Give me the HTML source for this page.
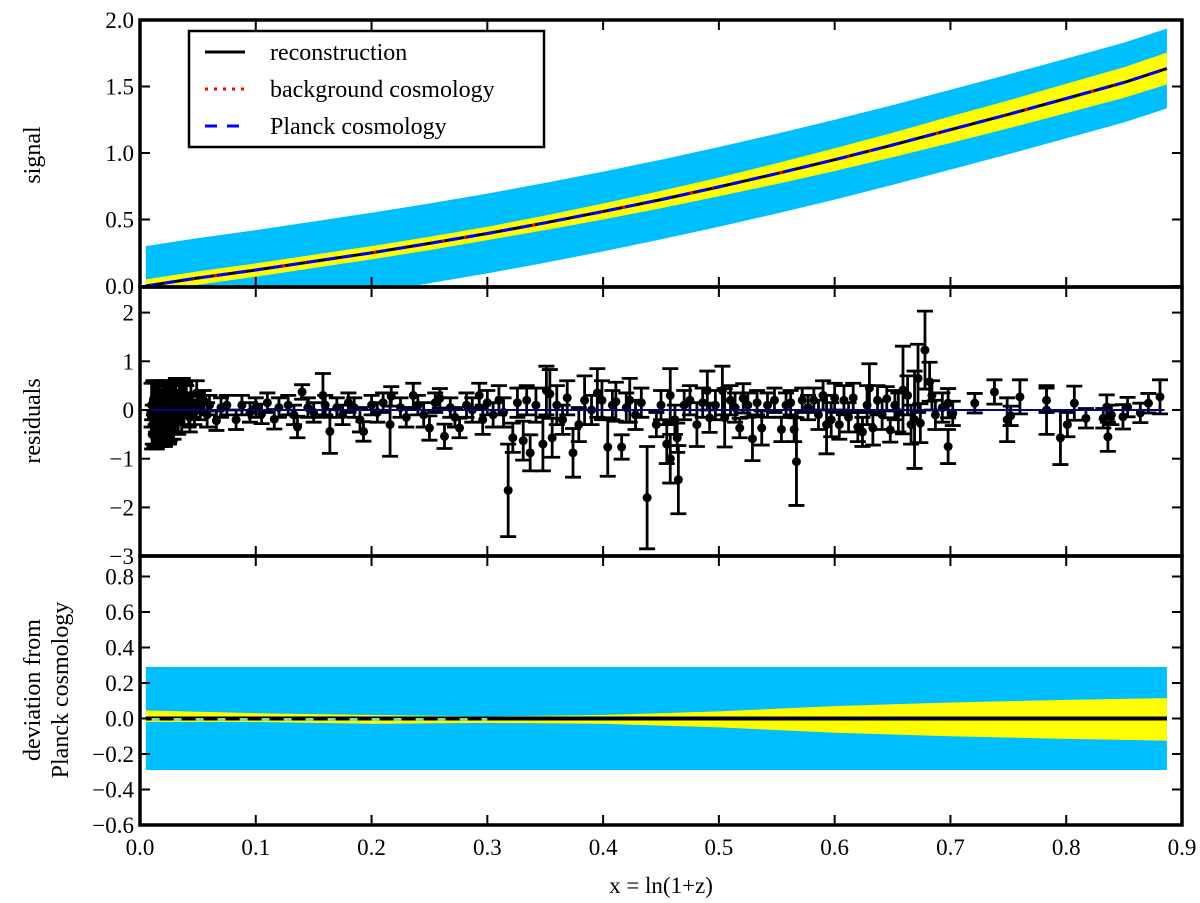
<!DOCTYPE html>
<html><head><meta charset="utf-8"><style>
html,body{margin:0;padding:0;background:#fff;}
svg{display:block;font-family:"Liberation Serif",serif;}
</style></head><body>
<svg id="chart" width="1200" height="903" viewBox="0 0 1200 903" xmlns="http://www.w3.org/2000/svg">
<g id="layer"></g>
</svg>
<script>
// ---- data ----
const xTicks = [0,0.1,0.2,0.3,0.4,0.5,0.6,0.7,0.8,0.9];
const xTickLabels = ["0.0","0.1","0.2","0.3","0.4","0.5","0.6","0.7","0.8","0.9"];
const sigTicks = [0,0.5,1.0,1.5,2.0];
const sigTickLabels = ["0.0","0.5","1.0","1.5","2.0"];
const resTicks = [-3,-2,-1,0,1,2];
const resTickLabels = ["\u22123","\u22122","\u22121","0","1","2"];
const devTicks = [-0.6,-0.4,-0.2,0,0.2,0.4,0.6,0.8];
const devTickLabels = ["\u22120.6","\u22120.4","\u22120.2","0.0","0.2","0.4","0.6","0.8"];

const curveX = [0.005,0.05,0.1,0.15,0.2,0.25,0.3,0.35,0.4,0.45,0.5,0.55,0.6,0.65,0.7,0.75,0.8,0.85,0.887];
const curveY = [0.0,0.06,0.12,0.185,0.25,0.32,0.395,0.475,0.56,0.65,0.745,0.845,0.95,1.06,1.175,1.29,1.41,1.53,1.635];
const cyanHalf = [0.30,0.30,0.30,0.30,0.30,0.30,0.30,0.30,0.30,0.30,0.30,0.30,0.30,0.30,0.30,0.30,0.30,0.30,0.30];
const yellowHalf = [0.05,0.05,0.05,0.05,0.05,0.05,0.05,0.055,0.06,0.065,0.07,0.078,0.085,0.092,0.10,0.105,0.11,0.115,0.12];

const devX = [0.005,0.1,0.2,0.3,0.4,0.5,0.6,0.7,0.8,0.887];
const devYelUp = [0.045,0.03,0.02,0.012,0.02,0.04,0.07,0.09,0.105,0.115];
const devYelLo = [-0.02,-0.02,-0.03,-0.025,-0.03,-0.05,-0.08,-0.10,-0.115,-0.125];
const devCyanUp = [0.29,0.29,0.29,0.29,0.29,0.29,0.29,0.29,0.29,0.29];
const devCyanLo = [-0.29,-0.29,-0.29,-0.29,-0.29,-0.29,-0.29,-0.29,-0.29,-0.29];

const resX = [.010,.011,.012,.013,.014,.015,.016,.017,.018,.019,.020,.021,.022,.023,.024,.025,.026,.027,.028,.029,.030,.032,.033,.034,.036,.037,.038,.040,.042,.044,.045,.047,.049,.050,.052,.055,.058,.060,
.0105,.0115,.0125,.0135,.0145,.0155,.0165,.0175,.0185,.0195,.0205,.0215,.0225,.0235,.0245,.0255,.0265,.0275,.031,.035,.039,.043,
.066,.070,.075,.083,.088,.095,.100,.105,.110,.116,.120,.128,.133,.136,.140,.145,.150,.158,.160,.164,.170,.175,.180,.185,.190,.193,.200,.205,.210,.216,.217,.225,.230,.236,.240,.245,.250,.255,.259,.263,.268,.272,.276,.282,.287,.293,.296,.300,.305,.310,.314,
.318,.322,.326,.331,.334,.337,.342,.348,.351,.354,.356,.360,.365,.369,.374,.379,.384,.390,.395,.399,.404,.408,.411,.416,.420,.423,.428,.433,.438,.446,.450,.455,.458,.458,.462,.464,.465,.470,.475,.481,.486,.490,.492,.497,.503,.505,.510,.514,.518,.521,.525,.529,.533,.537,.542,.548,.554,.558,.562,.565,.567,.572,.577,.582,.586,.590,.593,.597,.600,.604,.608,.612,.616,.620,.624,.628,.630,.633,.637,.641,.645,.648,.652,.655,.659,.663,.666,.669,.672,.674,.678,.682,.684,.687,.693,.698,.698,.702,.721,.738,.749,.752,.760,.783,.783,.795,.801,.807,.817,.832,.835,.836,.839,.849,.853,.864,.871,.881];
const resY = [.10,-.30,.25,-.45,.05,.30,-.20,.15,-.35,.00,.20,-.10,.35,-.25,.10,-.40,.25,-.05,.15,-.30,.30,.05,-.20,.20,-.15,.35,.00,.25,-.10,.30,.10,-.05,.35,.15,.05,.20,-.10,.10,
-.50,.20,-.40,.15,-.55,.10,-.35,.30,-.45,-.15,.25,-.50,.05,-.30,.30,-.35,.20,-.25,.35,.30,.25,-.15,
-.22,.05,.10,-.20,.10,-.05,.05,-.08,.15,-.19,.05,.10,-.10,-.35,.37,.05,-.05,.30,.10,-.44,.05,-.10,.15,.05,-.20,-.44,.10,-.05,.15,-.30,.28,.05,-.15,.30,.10,-.10,-.37,.15,.24,-.54,.05,-.15,-.37,.10,.00,.30,-.20,.15,-.10,.20,-.05,
-1.65,-.57,.15,-.63,.20,-.88,.10,-.70,.40,.33,-.57,.10,-.20,.25,-.88,-.30,.20,.00,.35,.20,-.76,.10,.17,-.76,.05,.20,-.10,.15,-1.80,-.30,.10,-.70,.30,-1.00,-.20,-.57,-1.43,.10,.20,-.30,.15,.40,-.16,.10,.40,-.16,.20,.05,-.37,.24,.10,-.59,.15,-.37,.10,.20,-.40,.10,.15,-.40,-1.06,.20,.05,.20,-.10,.30,-.30,-.20,.25,-.30,.20,-.15,.25,-.35,-.45,.10,.45,-.37,.20,-.10,.23,-.41,.10,-.05,.41,.30,-.30,-.20,.65,-.27,1.23,.58,.30,-.10,.05,.14,-.75,-.07,.14,.37,-.20,-.12,.27,.20,0.0,-.57,-.30,.14,-.17,-.17,.06,-.55,-.10,-.14,.06,-.06,.14,.27];
const resErr = [.45,.40,.35,.30,.50,.30,.40,.35,.35,.40,.30,.45,.25,.35,.30,.30,.35,.35,.40,.30,.30,.35,.30,.30,.30,.30,.30,.25,.25,.30,.25,.25,.25,.20,.25,.20,.25,.20,
.30,.40,.35,.45,.25,.45,.40,.30,.30,.45,.35,.25,.50,.40,.30,.30,.35,.35,.30,.30,.30,.30,
.2,.2,.2,.2,.2,.2,.2,.2,.2,.2,.2,.2,.2,.22,.15,.2,.2,.45,.2,.45,.2,.2,.2,.2,.25,.2,.2,.2,.2,.65,.2,.2,.2,.25,.2,.25,.25,.2,.2,.25,.2,.2,.2,.25,.25,.25,.30,.25,.25,.3,.3,
.95,.3,.3,.4,.3,.37,.35,.55,.5,.5,.4,.4,.3,.35,.5,.35,.5,.3,.5,.4,.6,.3,.4,.25,.3,.45,.3,.3,1.05,.25,.3,.4,.55,.5,.3,.3,.7,.3,.3,.45,.3,.4,.3,.3,.5,.6,.3,.3,.2,.3,.25,.45,.25,.35,.25,.25,.25,.25,.25,.25,.9,.25,.25,.25,.3,.3,.6,.35,.3,.3,.3,.3,.3,.3,.3,.4,.5,.35,.3,.3,.25,.25,.3,.4,.9,.4,.4,1.0,.7,.4,.8,.4,.3,.3,.3,.3,.35,.25,.2,.25,.45,.2,.35,.25,.5,.55,.25,.35,.2,.2,.25,.3,.2,.25,.2,.2,.2,.35];

// ---- layout ----
const L = 140, R = 1182;
const P1 = {top:20, bot:287}, P2 = {top:287, bot:556}, P3 = {top:556, bot:825};
const sx = v => L + v/0.9*(R-L);
const sy1 = v => 286 - v*133;
const sy2 = v => 410 - v*48.7;
const sy3 = v => 718.5 - v*177.5;

const NS = "http://www.w3.org/2000/svg";
const svg = document.getElementById('chart');
const layer = document.getElementById('layer');
function mk(tag, attrs, parent){
  const e = document.createElementNS(NS, tag);
  for (const k in attrs) e.setAttribute(k, attrs[k]);
  (parent||layer).appendChild(e);
  return e;
}
const defs = mk('defs',{});
[[P1,'c1'],[P2,'c2'],[P3,'c3']].forEach(([p,id])=>{
  const cp = mk('clipPath',{id:id},defs);
  mk('rect',{x:L,y:p.top,width:R-L,height:p.bot-p.top},cp);
});
function bandPath(xs, up, lo, sy){
  let d = 'M';
  for (let i=0;i<xs.length;i++) d += sx(xs[i]).toFixed(1)+','+sy(up[i]).toFixed(1)+' L';
  for (let i=xs.length-1;i>=0;i--) d += sx(xs[i]).toFixed(1)+','+sy(lo[i]).toFixed(1)+(i>0?' L':' Z');
  return d;
}
function linePath(xs, ys, sy){
  return xs.map((x,i)=>(i?'L':'M')+sx(x).toFixed(1)+','+sy(ys[i]).toFixed(1)).join(' ');
}

// ---- panel 1: signal ----
const g1 = mk('g',{'clip-path':'url(#c1)'});


const cu = curveY.map((v,i)=>v+cyanHalf[i]), cl = curveY.map((v,i)=>v-cyanHalf[i]);
const yu = curveY.map((v,i)=>v+yellowHalf[i]), yl = curveY.map((v,i)=>v-yellowHalf[i]);
let e = mk('path',{d:bandPath(curveX,cu,cl,sy1),fill:'#00bfff'},g1);


e = mk('path',{d:bandPath(curveX,yu,yl,sy1),fill:'#ffff00'},g1);


e = mk('path',{d:linePath(curveX,curveY,sy1),fill:'none',stroke:'#000','stroke-width':3},g1);


e = mk('path',{d:linePath(curveX,curveY,sy1),fill:'none',stroke:'#ff0000','stroke-width':3,'stroke-dasharray':'3 20'},g1);


e = mk('path',{d:linePath(curveX,curveY,sy1),fill:'none',stroke:'#0000ff','stroke-width':3,'stroke-dasharray':'12 6'},g1);



// ---- panel 2: residuals ----
const g2 = mk('g',{'clip-path':'url(#c2)'});


for (let i=0;i<resX.length;i++){
  const x = sx(resX[i]), y = sy2(resY[i]);
  const yt = sy2(resY[i]+resErr[i]), yb = sy2(resY[i]-resErr[i]);
  const g = mk('g',{},g2);
  
  
  mk('line',{x1:x,x2:x,y1:yt,y2:yb,stroke:'#000','stroke-width':2.8},g);
  mk('line',{x1:x-8,x2:x+8,y1:yt,y2:yt,stroke:'#000','stroke-width':2.8},g);
  mk('line',{x1:x-8,x2:x+8,y1:yb,y2:yb,stroke:'#000','stroke-width':2.8},g);
  mk('circle',{cx:x,cy:y,r:4.5,fill:'#000'},g);
}
e = mk('line',{x1:sx(0.01),x2:sx(0.885),y1:sy2(0),y2:sy2(0),stroke:'#00008b','stroke-width':2},g2);



// ---- panel 3: deviation ----
const g3 = mk('g',{'clip-path':'url(#c3)'});


e = mk('path',{d:bandPath(devX,devCyanUp,devCyanLo,sy3),fill:'#00bfff'},g3);


e = mk('path',{d:bandPath(devX,devYelUp,devYelLo,sy3),fill:'#ffff00'},g3);


e = mk('line',{x1:sx(0.005),x2:sx(0.887),y1:sy3(0),y2:sy3(0),stroke:'#000','stroke-width':4},g3);


e = mk('line',{x1:sx(0.01),x2:sx(0.3),y1:sy3(0)+1,y2:sy3(0)+1,stroke:'#7fdf9f','stroke-width':3,'stroke-dasharray':'8 14'},g3);



// ---- axes frames & ticks ----
function frame(p, yt, ylab, sy, name){
  const g = mk('g',{});
  
  
  mk('rect',{x:L,y:p.top,width:R-L,height:p.bot-p.top,fill:'none',stroke:'#000','stroke-width':3.5},g);
  xTicks.forEach(t=>{
    const x = sx(t);
    mk('line',{x1:x,x2:x,y1:p.bot,y2:p.bot-10,stroke:'#000','stroke-width':2},g);
    mk('line',{x1:x,x2:x,y1:p.top,y2:p.top+10,stroke:'#000','stroke-width':2},g);
  });
  yt.forEach((t,i)=>{
    const y = sy(t);
    mk('line',{x1:L,x2:L+10,y1:y,y2:y,stroke:'#000','stroke-width':2},g);
    mk('line',{x1:R,x2:R-10,y1:y,y2:y,stroke:'#000','stroke-width':2},g);
    const tx = mk('text',{x:L-6,y:y+8,'text-anchor':'end','font-size':23,fill:'#000'},g);
    tx.textContent = ylab[i];
  });
}
frame(P1, sigTicks, sigTickLabels, sy1, 'signal-axes');
frame(P2, resTicks, resTickLabels, sy2, 'residuals-axes');
frame(P3, devTicks, devTickLabels, sy3, 'deviation-axes');
xTicks.forEach((t,i)=>{
  const tx = mk('text',{x:sx(t),y:855,'text-anchor':'middle','font-size':23,fill:'#000'});
  
  
  tx.textContent = xTickLabels[i];
});

// ---- axis titles ----
function vt(x,y,s,name){
  const t = mk('text',{x:x,y:y,transform:'rotate(-90 '+x+' '+y+')','text-anchor':'middle','font-size':24});
  t.textContent = s;
  
  
}
vt(40,155,'signal','signal-axis-title');
vt(40,421,'residuals','residuals-axis-title');
vt(40,690,'deviation from','deviation-axis-title-line1');
vt(68,690,'Planck cosmology','deviation-axis-title-line2');
const xt = mk('text',{x:661,y:893,'text-anchor':'middle','font-size':23});
xt.textContent = 'x = ln(1+z)';



// ---- legend ----
const lg = mk('g',{});


mk('rect',{x:189,y:31,width:355,height:116,fill:'#fff',stroke:'#000','stroke-width':2.5},lg);
const legLabels = ['reconstruction','background cosmology','Planck cosmology'];
const legColors = ['#000','#ff0000','#0000ff'];
const legDash = ['none','3 6','12 10'];
legLabels.forEach((lab,i)=>{
  const y = 52 + i*37;
  const ent = mk('g',{},lg);
  
  
  mk('line',{x1:205,x2:245,y1:y,y2:y,stroke:legColors[i],'stroke-width':3,'stroke-dasharray':legDash[i]},ent);
  const tx = mk('text',{x:270,y:y+8,'font-size':24},ent);
  tx.textContent = lab;
});
</script>
</body></html>
